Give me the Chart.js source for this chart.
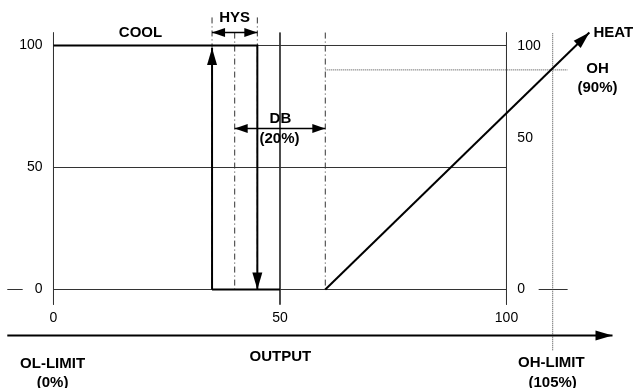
<!DOCTYPE html>
<html>
<head>
<meta charset="utf-8">
<script src="https://cdn.jsdelivr.net/npm/chart.js@4/dist/chart.umd.min.js"></script>
<style>
  body { margin: 0; background: #fff; }
  canvas { display: block; }
</style>
</head>
<body>
<canvas id="grafico" width="635" height="388"></canvas>
<script>
// output values (x = output %, y = control %)
var coolTop = [{x: 0, y: 100}, {x: 45, y: 100}, {x: 45, y: 0}];
var coolUp = [{x: 35, y: 0}, {x: 35, y: 99}];
var coolBottom = [{x: 35, y: 0}, {x: 50, y: 0}];
var heatLine = [{x: 60, y: 0}, {x: 118.3, y: 105.3}];
var outputAxis = [{x: -10.2, y: -18.9}, {x: 123.4, y: -18.9}];

var hysArrow = [{x: 35, y: 105.3}, {x: 45, y: 105.3}];
var dbArrow = [{x: 40, y: 66}, {x: 60, y: 66}];

var hysMarks = [35, 40, 45];
var dbMark = 60;
var ohLevel = [{x: 60, y: 90}, {x: 113.5, y: 90}];
var ohLimit = [{x: 110.2, y: 105}, {x: 110.2, y: -25}];

var gridLevels = [0, 50, 100];
var frameX = [0, 50, 100];
var xTicks = [0, 50, 100];
var yTicksLeft = [0, 50, 100];
var yTicksRight = [{label: '100', y: 99.6}, {label: '50', y: 61.9}, {label: '0', y: 0}];

var testi = [
   {t: 'COOL', x: 19.2, y: 105.3},
   {t: 'HYS', x: 40, y: 111.5},
   {t: 'DB', x: 50.1, y: 70.1},
   {t: '(20%)', x: 49.9, y: 61.9},
   {t: 'HEAT', x: 119.2, y: 105.3, align: 'left'},
   {t: 'OH', x: 120.1, y: 90.6},
   {t: '(90%)', x: 120.1, y: 82.8},
   {t: 'OL-LIMIT', x: -0.2, y: -30.3},
   {t: '(0%)', x: -0.2, y: -38.1},
   {t: 'OUTPUT', x: 50.1, y: -27.5},
   {t: 'OH-LIMIT', x: 109.9, y: -29.9},
   {t: '(105%)', x: 110.2, y: -38.1}
];

var datasets = [];

function linea(dati, stile) {
   var ds = {
      data: dati,
      borderColor: stile.colore || '#222',
      borderWidth: stile.spessore || 1,
      borderDash: stile.dash || [],
      pointRadius: 0,
      fill: false,
      tension: 0,
      order: stile.order || 0,
      arrow: stile.arrow || null
   };
   datasets.push(ds);
}

// frame and grid
frameX.forEach(function (v) {
   linea([{x: v, y: 105.3}, {x: v, y: -6.2}], {colore: '#333', spessore: 1, order: 5});
});
gridLevels.forEach(function (v) {
   linea([{x: 0, y: v}, {x: 100, y: v}], {colore: '#333', spessore: 1, order: 5});
});
linea([{x: -10.2, y: 0}, {x: -6.8, y: 0}], {colore: '#333', order: 5});
linea([{x: 107.1, y: 0}, {x: 113.5, y: 0}], {colore: '#333', order: 5});

// dash-dot markers
hysMarks.forEach(function (v) {
   var top = v === 40 ? 105.3 : 111.5;
   linea([{x: v, y: top}, {x: v, y: 0}], {colore: '#333', dash: [6, 3, 1, 3], order: 4});
});
linea([{x: dbMark, y: 105.3}, {x: dbMark, y: 0}], {colore: '#333', dash: [6, 3, 1, 3], order: 4});

// dotted OH
linea(ohLevel, {colore: '#444', dash: [1, 1], order: 4});
linea(ohLimit, {colore: '#444', dash: [1, 1], order: 4});

// arrows
linea(hysArrow, {colore: '#000', spessore: 1.5, arrow: 'both', order: 1});
linea(dbArrow, {colore: '#000', spessore: 1.5, arrow: 'both', order: 1});

// main curves
linea(coolTop, {colore: '#000', spessore: 2, arrow: 'end'});
linea(coolUp, {colore: '#000', spessore: 2, arrow: 'end'});
linea(coolBottom, {colore: '#000', spessore: 2});
linea(heatLine, {colore: '#000', spessore: 2, arrow: 'end'});
linea(outputAxis, {colore: '#000', spessore: 2, arrow: 'end'});

function punta(ctx, p, q, lung, larg) {
   var a = Math.atan2(p.y - q.y, p.x - q.x);
   ctx.save();
   ctx.translate(p.x, p.y);
   ctx.rotate(a);
   ctx.beginPath();
   ctx.moveTo(0, 0);
   ctx.lineTo(-lung, -larg);
   ctx.lineTo(-lung, larg);
   ctx.closePath();
   ctx.fillStyle = '#000';
   ctx.fill();
   ctx.restore();
}

var frecce = {
   id: 'frecce',
   afterDatasetsDraw: function (chart) {
      var ctx = chart.ctx;
      chart.data.datasets.forEach(function (ds, i) {
         if (!ds.arrow) return;
         var pts = chart.getDatasetMeta(i).data;
         var n = pts.length;
         var big = ds.borderWidth >= 2;
         var lung = big ? 17 : 13;
         var larg = big ? 5 : 4.5;
         punta(ctx, pts[n - 1], pts[n - 2], lung, larg);
         if (ds.arrow === 'both') punta(ctx, pts[0], pts[1], lung, larg);
      });
   }
};

var etichette = {
   id: 'etichette',
   afterDraw: function (chart) {
      var ctx = chart.ctx;
      var sx = chart.scales.x;
      var sy = chart.scales.y;
      ctx.save();
      ctx.fillStyle = '#000';
      ctx.textBaseline = 'middle';

      ctx.font = '14px "Liberation Sans", Arial, sans-serif';
      ctx.textAlign = 'center';
      xTicks.forEach(function (v) {
         ctx.fillText(String(v), sx.getPixelForValue(v), sy.getPixelForValue(-11.9));
      });
      ctx.textAlign = 'right';
      yTicksLeft.forEach(function (v) {
         ctx.fillText(String(v), sx.getPixelForValue(-2.4), sy.getPixelForValue(v));
      });
      ctx.textAlign = 'left';
      yTicksRight.forEach(function (t) {
         ctx.fillText(t.label, sx.getPixelForValue(102.4), sy.getPixelForValue(t.y));
      });

      ctx.font = 'bold 15px "Liberation Sans", Arial, sans-serif';
      testi.forEach(function (t) {
         ctx.textAlign = t.align || 'center';
         ctx.fillText(t.t, sx.getPixelForValue(t.x), sy.getPixelForValue(t.y));
      });
      ctx.restore();
   }
};

var ctx = document.getElementById('grafico').getContext('2d');
var chart = new Chart(ctx, {
   type: 'line',
   data: {datasets: datasets},
   options: {
      responsive: false,
      animation: false,
      layout: {padding: 0},
      plugins: {legend: {display: false}, tooltip: {enabled: false}},
      scales: {
         x: {type: 'linear', min: -11.81, max: 128.37, display: false},
         y: {type: 'linear', min: -40.365, max: 118.645, display: false}
      },
      elements: {line: {borderCapStyle: 'butt'}}
   },
   plugins: [frecce, etichette]
});
</script>
</body>
</html>
